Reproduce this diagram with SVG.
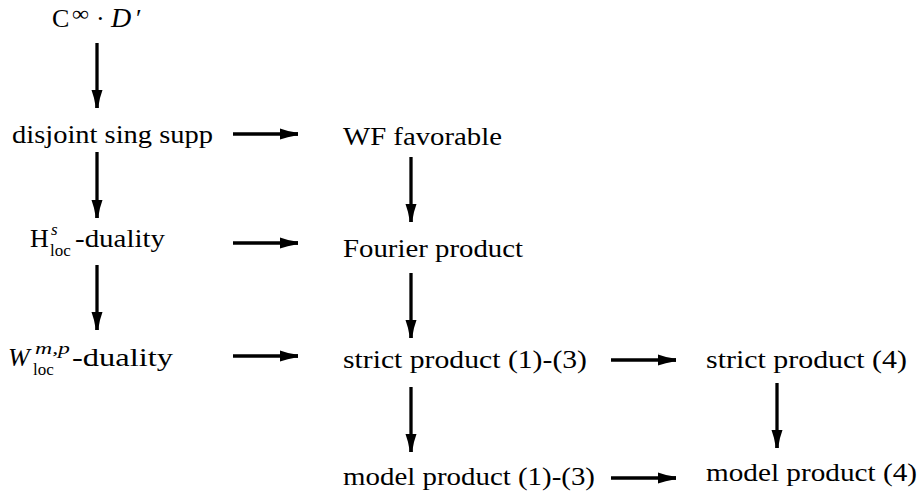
<svg xmlns="http://www.w3.org/2000/svg" width="920" height="498" viewBox="0 0 920 498">
  <style>
    .lbl { font-family: 'Liberation Serif', 'Times New Roman', Times, serif; font-size: 26px; fill: #000; }
    .sup, .sub { font-size: 17px; }
    .it { font-style: italic; }
    .edge { stroke: #000; stroke-width: 3.3; fill: none; marker-end: url(#head); }
  </style>
  <defs>
    <marker id="head" markerUnits="userSpaceOnUse" viewBox="-20 -6 20 12" markerWidth="20" markerHeight="12" refX="0" refY="0" orient="auto">
      <path d="M -18 -5.5 Q -10 -2.6 -3 -1.65 L 0 -1.65 L 0 1.65 L -3 1.65 Q -10 2.6 -18 5.5 Z" fill="#000"/>
    </marker>
  </defs>
  <rect width="920" height="498" fill="#fff"/>

  <!-- implication arrows -->
  <g id="connectors">
    <line class="edge" x1="97" y1="43" x2="97" y2="108"/>
    <line class="edge" x1="97" y1="152" x2="97" y2="218"/>
    <line class="edge" x1="97" y1="265" x2="97" y2="330"/>
    <line class="edge" x1="411" y1="157" x2="411" y2="222"/>
    <line class="edge" x1="411" y1="273" x2="411" y2="338"/>
    <line class="edge" x1="411" y1="387" x2="411" y2="452"/>
    <line class="edge" x1="777" y1="383" x2="777" y2="448"/>
    <line class="edge" x1="233" y1="134" x2="298" y2="134"/>
    <line class="edge" x1="233" y1="243" x2="298" y2="243"/>
    <line class="edge" x1="233" y1="356" x2="298" y2="356"/>
    <line class="edge" x1="611" y1="360" x2="676" y2="360"/>
    <line class="edge" x1="611" y1="478" x2="676" y2="478"/>
  </g>

  <g font-family="Liberation Serif, serif">
    <g id="smooth-times-distribution">
      <text class="lbl" y="27"><tspan x="52">C</tspan><tspan x="72" dy="-6" font-size="22" textLength="17" lengthAdjust="spacingAndGlyphs">∞</tspan><tspan x="96" dy="6">·</tspan><tspan class="it" x="111" font-size="28">D</tspan><tspan x="136">′</tspan></text>
    </g>
    <g id="disjoint-sing-supp">
      <text class="lbl" x="12" y="143" textLength="201" lengthAdjust="spacingAndGlyphs">disjoint sing supp</text>
    </g>
    <g id="wf-favorable">
      <text class="lbl" x="343" y="145" textLength="159" lengthAdjust="spacingAndGlyphs">WF favorable</text>
    </g>
    <g id="hs-duality">
      <text class="lbl" y="247"><tspan x="30">H</tspan><tspan class="sup it" x="51" dy="-12">s</tspan><tspan class="sub" x="50" dy="21">loc</tspan><tspan x="75" dy="-9" textLength="90" lengthAdjust="spacingAndGlyphs">-duality</tspan></text>
    </g>
    <g id="fourier-product">
      <text class="lbl" x="343" y="257" textLength="180" lengthAdjust="spacingAndGlyphs">Fourier product</text>
    </g>
    <g id="wmp-duality">
      <text class="lbl" y="366"><tspan class="it" x="8">W</tspan><tspan class="sup it" x="35" dy="-12" textLength="35" lengthAdjust="spacingAndGlyphs">m,p</tspan><tspan class="sub" x="33" dy="21">loc</tspan><tspan x="72" dy="-9" textLength="101" lengthAdjust="spacingAndGlyphs">-duality</tspan></text>
    </g>
    <g id="strict-product-1-3">
      <text class="lbl" x="343" y="368" textLength="244" lengthAdjust="spacingAndGlyphs">strict product (1)-(3)</text>
    </g>
    <g id="strict-product-4">
      <text class="lbl" x="706" y="368" textLength="201" lengthAdjust="spacingAndGlyphs">strict product (4)</text>
    </g>
    <g id="model-product-1-3">
      <text class="lbl" x="343" y="485" textLength="252" lengthAdjust="spacingAndGlyphs">model product (1)-(3)</text>
    </g>
    <g id="model-product-4">
      <text class="lbl" x="706" y="481" textLength="211" lengthAdjust="spacingAndGlyphs">model product (4)</text>
    </g>
  </g>
</svg>
